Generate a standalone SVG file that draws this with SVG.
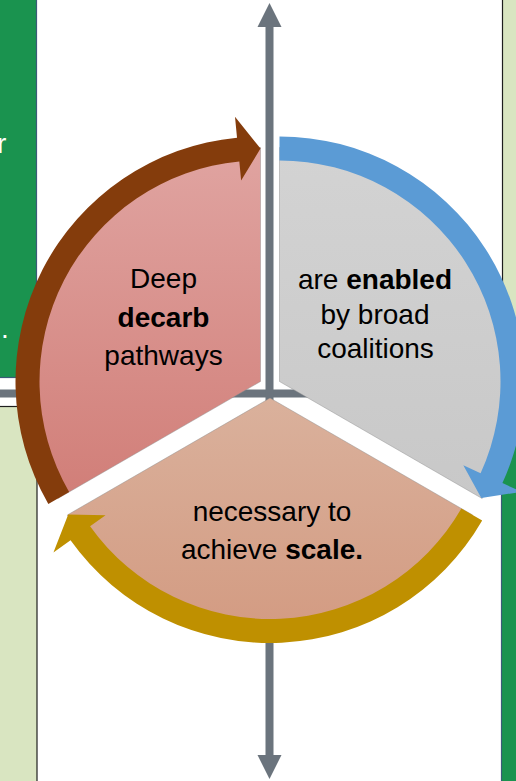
<svg xmlns="http://www.w3.org/2000/svg" width="516" height="781" viewBox="0 0 516 781">
  <defs>
    <linearGradient id="gPink" x1="0" y1="0" x2="0" y2="1">
      <stop offset="0" stop-color="#E0A4A1"/>
      <stop offset="1" stop-color="#D17E78"/>
    </linearGradient>
    <linearGradient id="gGray" x1="0" y1="0" x2="0" y2="1">
      <stop offset="0" stop-color="#D3D3D3"/>
      <stop offset="1" stop-color="#C8C8C8"/>
    </linearGradient>
    <linearGradient id="gTan" x1="0" y1="0" x2="0" y2="1">
      <stop offset="0" stop-color="#DAB19C"/>
      <stop offset="1" stop-color="#D39B82"/>
    </linearGradient>
    <style>
      .green { fill: #1A934F; stroke: #3B5B78; stroke-width: 1.2; }
      .lightgreen { fill: #D9E5C1; stroke: #1E1E1E; stroke-width: 1.2; }
      .axis { fill: #6B747D; }
      .slice { stroke: #8C8C8C; stroke-opacity: 0.45; stroke-width: 1; }
      .lbl { font-family: "Liberation Sans", Arial, sans-serif; font-size: 28px; fill: #000000; text-anchor: middle; }
      .panelTxt { font-family: "Liberation Sans", Arial, sans-serif; font-size: 28px; fill: #FFFFFF; }
      .b { font-weight: bold; }
    </style>
  </defs>

  <rect width="516" height="781" fill="#FFFFFF"/>

  <g id="panels">
    <rect class="green" x="-2" y="-2" width="38.5" height="379.5"/>
    <rect class="lightgreen" x="-2" y="406.5" width="39" height="380"/>
    <rect class="lightgreen" x="502.5" y="-2" width="20" height="380"/>
    <rect class="green" x="501.5" y="406.5" width="20" height="380"/>
    <text class="panelTxt" x="-3" y="153">r</text>
    <text class="panelTxt" x="1" y="338">.</text>
  </g>

  <g id="axes">
    <rect class="axis" x="0" y="389.5" width="516" height="8"/>
    <rect class="axis" x="265.5" y="25" width="8" height="732"/>
    <polygon class="axis" points="269.5,3 281.5,27 257.5,27"/>
    <polygon class="axis" points="269.5,779 281.5,755 257.5,755"/>
  </g>

  <g id="node-deep-decarb">
    <path class="slice" d="M 260.5 381.5 L 57.85 498.5 A 234 234 0 0 1 260.5 147.5 Z" fill="url(#gPink)"/>
    <text class="lbl" x="163.5" y="288">Deep</text>
    <text class="lbl b" x="163.5" y="326.5">decarb</text>
    <text class="lbl" x="163.5" y="365">pathways</text>
  </g>

  <g id="node-enabled">
    <path class="slice" d="M 279.5 381.5 L 279.5 147.5 A 234 234 0 0 1 482.15 498.5 Z" fill="url(#gGray)"/>
    <text class="lbl" x="375" y="289">are <tspan class="b">enabled</tspan></text>
    <text class="lbl" x="375" y="323.5">by broad</text>
    <text class="lbl" x="375.5" y="358">coalitions</text>
  </g>

  <g id="node-scale">
    <path class="slice" d="M 270 398 L 472.65 515 A 234 234 0 0 1 67.35 515 Z" fill="url(#gTan)"/>
    <text class="lbl" x="272" y="521">necessary to</text>
    <text class="lbl" x="272" y="559">achieve <tspan class="b">scale.</tspan></text>
  </g>

  <g id="connectors">
    <path fill="#843C0C" d="M 48.32 504 A 245 245 0 0 1 237.02 137.63 L 235 116.72 L 260.5 148.5 L 241.14 180.43 L 239.32 161.52 A 221 221 0 0 0 69.11 492 Z"/>
    <path fill="#5B9BD5" d="M 279.5 136.5 A 245 245 0 0 1 502.44 483.1 L 521.55 491.81 L 481.28 498 L 463.31 465.27 L 480.6 473.15 A 221 221 0 0 0 279.5 160.5 Z"/>
    <path fill="#BF9000" d="M 482.18 520.5 A 245 245 0 0 1 70.54 540.27 L 53.44 552.47 L 68.22 514.5 L 105.55 515.3 L 90.08 526.33 A 221 221 0 0 0 461.39 508.5 Z"/>
  </g>
</svg>
